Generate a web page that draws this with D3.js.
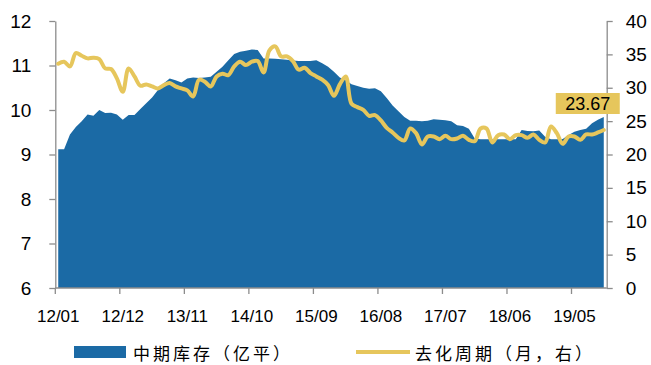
<!DOCTYPE html>
<html>
<head>
<meta charset="utf-8">
<script src="https://cdn.jsdelivr.net/npm/d3@7"></script>
<style>
  html, body { margin: 0; padding: 0; background: #fff; }
  svg { display: block; }
  text { font-family: "Liberation Sans", Arial, sans-serif; fill: #000; }
  .cjk { font-family: "Noto Sans CJK SC", sans-serif; }
</style>
</head>
<body>
<svg id="chart" width="651" height="365"></svg>
<script>
// Monthly series, 2012/01 – 2019/10
const startYear = 2012;
const monthCount = 94;

// 中期库存 (亿平), left axis
const inventory = [
  9.12, 9.12, 9.45, 9.62, 9.75, 9.90, 9.87, 10.00, 9.93, 9.94, 9.90, 9.78,
  9.89, 9.89, 10.02, 10.15, 10.28, 10.45, 10.60, 10.71, 10.67, 10.62, 10.71, 10.73,
  10.72, 10.73, 10.75, 10.86, 10.97, 11.12, 11.26, 11.31, 11.33, 11.36, 11.35, 11.16,
  11.16, 11.15, 11.14, 11.13, 11.11, 11.10, 11.10, 11.10, 11.12, 11.05, 10.97, 10.86,
  10.73, 10.67, 10.58, 10.54, 10.50, 10.48, 10.49, 10.42, 10.27, 10.10, 9.97, 9.84,
  9.76, 9.76, 9.75, 9.76, 9.79, 9.78, 9.77, 9.75, 9.66, 9.64, 9.58, 9.36,
  9.34, 9.34, 9.34, 9.34, 9.34, 9.34, 9.34, 9.55, 9.53, 9.52, 9.54, 9.40,
  9.34, 9.34, 9.35, 9.44, 9.51, 9.55, 9.58, 9.70, 9.78, 9.84
];

// 去化周期 (月), right axis
const period = [
  33.6, 33.9, 33.2, 35.2, 34.8, 34.4, 34.5, 34.3, 32.9, 32.8, 31.4, 29.4,
  32.9, 31.7, 30.3, 30.5, 30.2, 29.9, 30.4, 30.7, 30.2, 29.9, 29.6, 28.7,
  31.2, 30.9, 30.2, 31.7, 32.1, 31.9, 33.2, 33.9, 33.4, 33.9, 34.0, 32.3,
  35.6, 36.2, 34.7, 34.7, 34.0, 32.7, 33.0, 32.2, 31.7, 31.2, 30.4, 28.8,
  30.5, 31.7, 27.6, 27.1, 26.7, 25.8, 25.9, 25.1, 24.0, 23.3, 22.5, 22.1,
  23.9, 23.2, 21.5, 22.7, 22.7, 22.3, 22.8, 22.3, 22.4, 22.8, 22.2, 22.0,
  23.9, 23.9, 21.8, 22.9, 23.0, 22.3, 22.9, 22.9, 22.5, 23.0, 22.2, 21.8,
  24.2, 23.2, 21.6, 22.7, 22.7, 22.2, 23.0, 23.0, 23.3, 23.67
];

const tickLabels = ["12/01", "12/12", "13/11", "14/10", "15/09", "16/08", "17/07", "18/06", "19/05"];
const leftTicks = [6, 7, 8, 9, 10, 11, 12];
const rightTicks = [0, 5, 10, 15, 20, 25, 30, 35, 40];
const seriesNames = ["中期库存（亿平）", "去化周期（月，右）"];

const months = d3.range(monthCount).map(i => {
  const y = startYear + Math.floor(i / 12);
  const m = (i % 12) + 1;
  return String(y).slice(2) + "/" + String(m).padStart(2, "0");
});

const blue = "#1b6aa5";
const gold = "#e6c65c";
const axisGray = "#8c8c8c";

const svg = d3.select("#chart");
const plotLeft = 55.3, plotRight = 606.7, plotTop = 21, plotBottom = 288;

// each month occupies one band; marks sit at band centres, ticks at band edges
const x = d3.scaleBand().domain(months).range([plotLeft, plotRight]).paddingInner(0).paddingOuter(0);
const xc = d => x(d) + x.bandwidth() / 2;
const yL = d3.scaleLinear().domain([6, 12]).range([plotBottom, plotTop]);
const yR = d3.scaleLinear().domain([0, 40]).range([plotBottom, plotTop]);

const rows = months.map((m, i) => ({ m, inv: inventory[i], per: period[i] }));

// inventory area
svg.append("path")
  .datum(rows)
  .attr("fill", blue)
  .attr("d", d3.area().x(d => xc(d.m)).y0(yL(6)).y1(d => yL(d.inv)));

// axes
function styleAxis(g) {
  g.selectAll("path, line").attr("stroke", axisGray).attr("stroke-width", 1.3);
  g.selectAll("text").attr("font-size", 19).attr("fill", "#000");
}

const axL = svg.append("g").attr("transform", `translate(${plotLeft},0)`)
  .call(d3.axisLeft(yL).tickValues(leftTicks).tickSize(6).tickSizeOuter(0).tickPadding(18).tickFormat(d3.format("d")));
styleAxis(axL);

const axR = svg.append("g").attr("transform", `translate(${plotRight},0)`)
  .call(d3.axisRight(yR).tickValues(rightTicks).tickSize(6).tickSizeOuter(0).tickPadding(13).tickFormat(d3.format("d")));
styleAxis(axR);

const axB = svg.append("g").attr("transform", `translate(0,${plotBottom})`)
  .call(d3.axisBottom(x).tickValues(tickLabels).tickSize(6).tickSizeOuter(0).tickPadding(16));
styleAxis(axB);
axB.select(".domain").attr("d", `M${plotLeft},0H${plotRight}`);
// ticks at the left edge of each labelled month, labels over the month centre
axB.selectAll(".tick line").attr("transform", `translate(${-x.bandwidth() / 2},0)`);
axB.selectAll(".tick text").attr("font-size", 17);

// sales-cycle line
svg.append("path")
  .datum(rows)
  .attr("fill", "none")
  .attr("stroke", gold)
  .attr("stroke-width", 4)
  .attr("stroke-linejoin", "round")
  .attr("stroke-linecap", "round")
  .attr("d", d3.line().curve(d3.curveCatmullRom.alpha(0.5)).x(d => xc(d.m)).y(d => yR(d.per)));

// value tag for the latest month
const last = rows[rows.length - 1];
const tagCx = xc(last.m) - 16, tagCy = 104;
svg.append("rect")
  .attr("x", tagCx - 32).attr("y", tagCy - 11)
  .attr("width", 64).attr("height", 21)
  .attr("fill", gold);
svg.append("text")
  .attr("x", tagCx).attr("y", tagCy)
  .attr("text-anchor", "middle").attr("dominant-baseline", "central")
  .attr("font-size", 18)
  .text(d3.format(".2f")(last.per));

// legend
const lg = svg.append("g");
lg.append("rect").attr("x", 74).attr("y", 346).attr("width", 52).attr("height", 12).attr("fill", blue);
lg.append("text").attr("class", "cjk").attr("x", 133).attr("y", 352)
  .attr("dominant-baseline", "central").attr("font-size", 17).attr("letter-spacing", 3)
  .text(seriesNames[0]);
lg.append("line").attr("x1", 356).attr("x2", 410).attr("y1", 352).attr("y2", 352)
  .attr("stroke", gold).attr("stroke-width", 4);
lg.append("text").attr("class", "cjk").attr("x", 415).attr("y", 352)
  .attr("dominant-baseline", "central").attr("font-size", 17).attr("letter-spacing", 3)
  .text(seriesNames[1]);
</script>
</body>
</html>
